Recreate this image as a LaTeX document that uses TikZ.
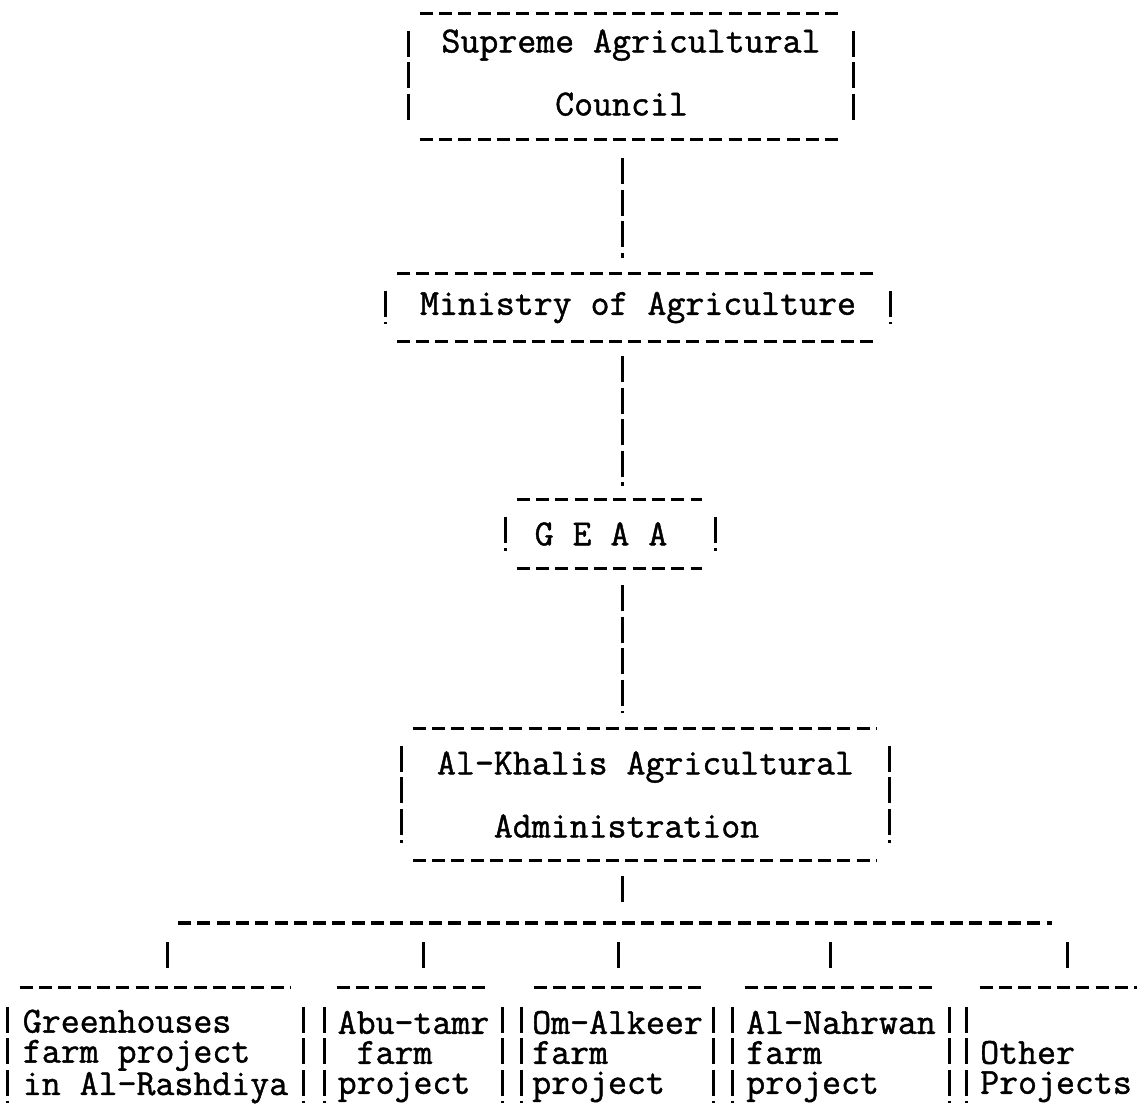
\documentclass[tikz,border=0pt]{standalone}
\usepackage{fontspec}
\usepackage{tikz}
\newfontfamily\typefont{Latin Modern Mono}[FakeBold=1.2]
\tikzstyle{tbox}=[inner sep=0pt,align=left,font=\typefont\fontsize{36.8bp}{30bp}\selectfont]
\tikzstyle{tbox2}=[tbox,font=\typefont\fontsize{36.8bp}{63bp}\selectfont]
\tikzstyle{dashrow}=[line width=3.3bp,dash pattern=on 13bp off 6.3bp]
\tikzstyle{conn}=[line width=3bp,dash pattern=on 26bp off 5.5bp]
% typed frame round a named node
\newcommand{\typedbox}[1]{%
  \draw[dashrow] ([xshift=11bp]#1.north west) -- ([xshift=-13bp]#1.north east);
  \draw[dashrow] ([xshift=11bp]#1.south west) -- ([xshift=-13bp]#1.south east);
  \draw[conn] ([yshift=-17bp]#1.north west) -- ([yshift=17bp]#1.south west);
  \draw[conn] ([yshift=-17bp]#1.north east) -- ([yshift=17bp]#1.south east);}
% frame open at the bottom
\newcommand{\openbox}[1]{%
  \draw[dashrow] ([xshift=12bp,yshift=11bp]#1.north west) -- ([xshift=-12bp,yshift=11bp]#1.north east);
  \draw[conn] ([yshift=-8bp]#1.north west) -- ([yshift=11bp]#1.south west);
  \draw[conn] ([yshift=-8bp]#1.north east) -- ([yshift=11bp]#1.south east);}

\begin{document}
\begin{tikzpicture}[x=1bp,y=-1bp]
	  \useasboundingbox (0,0) rectangle (1137,1115);
	  \node (sup) at (631,76.5) [tbox2,minimum width=444bp,minimum height=125bp] {Supreme Agricultural\\\phantom{Suprem}Council};
	  \node (min) at (638,307.5) [tbox,minimum width=504bp,minimum height=67bp] {Ministry of Agriculture};
	  \node (geaa) at (610.5,534) [tbox,minimum width=209bp,minimum height=68bp] {G E A A\hphantom{x}};
	  \node (kha) at (645.5,794.5) [tbox2,minimum width=487bp,minimum height=131bp] {Al-Khalis Agricultural\\\phantom{Al-}Administration};
	  \node (ga) at (155.5,1056.5) [tbox,minimum width=295bp,minimum height=115bp] {Greenhouses\\farm project\\in Al-Rashdiya};
	  \node (gb) at (413.5,1056.5) [tbox,minimum width=177bp,minimum height=115bp] {Abu-tamr\\\phantom{A}farm\\project};
	  \node (gc) at (617.5,1056.5) [tbox,minimum width=191bp,minimum height=115bp] {Om-Alkeer\\farm\\project};
	  \node (gd) at (841,1056.5) [tbox,minimum width=216bp,minimum height=115bp] {Al-Nahrwan\\farm\\project};
	  \node (ge) at (1056,1056.5) [tbox,minimum width=178bp,minimum height=115bp] {\phantom{Other}\\Other\\Projects};
	  \typedbox{sup}
	  \typedbox{min}
	  \typedbox{geaa}
	  \typedbox{kha}
	  \openbox{ga}
	  \openbox{gb}
	  \openbox{gc}
	  \openbox{gd}
	  \draw[dashrow] ([xshift=13bp,yshift=11bp]ge.north west) -- ([yshift=11bp]ge.north east);
	  \draw[conn] ([yshift=-8bp]ge.north west) -- ([yshift=11bp]ge.south west);
	  \coordinate (spine) at (622,0);
	  \coordinate (busl) at (178,923);
	  \coordinate (busr) at (1052,923);
	  \coordinate (da) at (167,923);
	  \coordinate (db) at (423,923);
	  \coordinate (dc) at (618,923);
	  \coordinate (dd) at (830,923);
	  \coordinate (de) at (1067,923);
	  \draw[conn,shorten <=19bp,shorten >=16bp] (sup.south -| spine) -- (min.north -| spine);
	  \draw[conn,shorten <=15bp,shorten >=14bp] (min.south -| spine) -- (geaa.north -| spine);
	  \draw[conn,shorten <=17bp,shorten >=16bp] (geaa.south -| spine) -- (kha.north -| spine);
	  \draw[conn,shorten <=16bp,shorten >=17bp] (kha.south -| spine) -- (busl -| spine);
	  \draw[dashrow] (busl) -- (busr);
	  \draw[conn,shorten <=19bp,shorten >=26bp] (da) -- (da |- ga.north);
	  \draw[conn,shorten <=19bp,shorten >=26bp] (db) -- (db |- gb.north);
	  \draw[conn,shorten <=19bp,shorten >=26bp] (dc) -- (dc |- gc.north);
	  \draw[conn,shorten <=19bp,shorten >=26bp] (dd) -- (dd |- gd.north);
	  \draw[conn,shorten <=19bp,shorten >=26bp] (de) -- (de |- ge.north);
    %
\end{tikzpicture}
\end{document}
